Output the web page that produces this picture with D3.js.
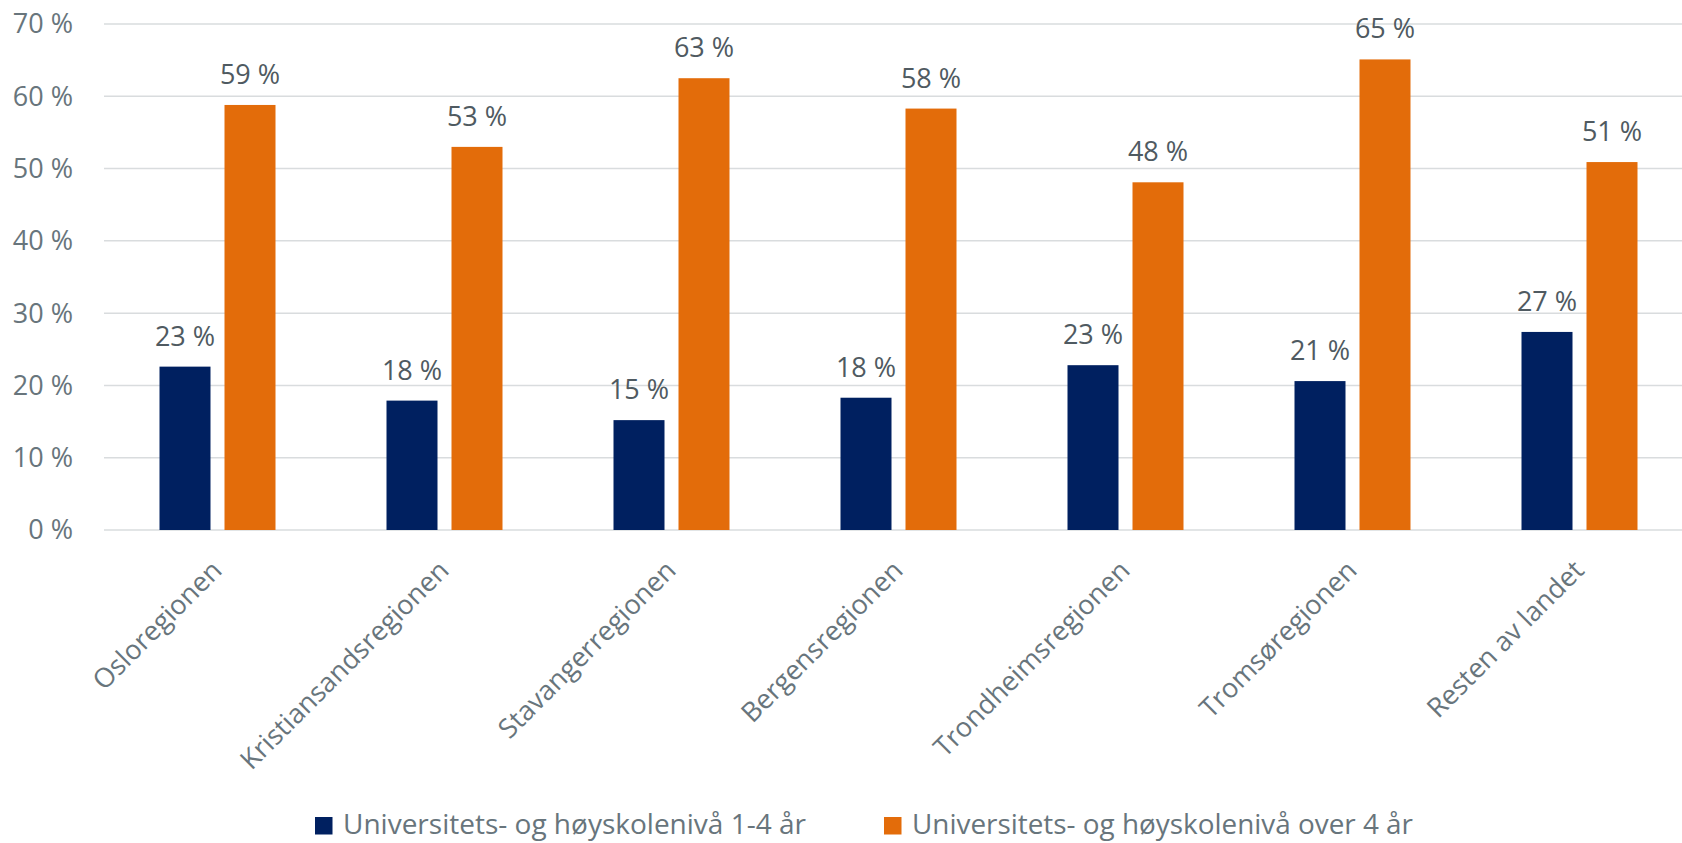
<!DOCTYPE html>
<html lang="no">
  <head>
    <meta charset="UTF-8" />
    <script src="https://d3js.org/d3.v7.min.js"></script>
    <style>
      body { margin: 0; background: #fff; }
      text { font-family: "Open Sans", sans-serif; }
      .grid line { stroke: #d9dcde; stroke-width: 1.5px; }
    </style>
    <title>Utdanningsnivå etter region</title>
  </head>
  <body>
    <svg id="chart" width="1682" height="843"></svg>
    <script>
      // data
      const regions = [
        "Osloregionen",
        "Kristiansandsregionen",
        "Stavangerregionen",
        "Bergensregionen",
        "Trondheimsregionen",
        "Tromsøregionen",
        "Resten av landet",
      ];
      const series = [
        "Universitets- og høyskolenivå 1-4 år",
        "Universitets- og høyskolenivå over 4 år",
      ];
      const short = [22.6, 17.9, 15.2, 18.3, 22.8, 20.6, 27.4];
      const long = [58.8, 53.0, 62.5, 58.3, 48.1, 65.1, 50.9];
      const yTicks = [0, 10, 20, 30, 40, 50, 60, 70];
      const colors = ["#002060", "#e36c0a"];

      const svg = d3.select("#chart");
      const width = +svg.attr("width");

      const rows = regions.map((r, i) => ({ region: r, values: [short[i], long[i]] }));

      const x0 = d3.scaleBand().domain(regions).range([104, 1693]);
      const x1 = d3
        .scaleBand()
        .domain(d3.range(series.length))
        .range([55.5, 171.5])
        .paddingInner(0.2154);
      const y = d3.scaleLinear().domain([0, 70]).range([530, 24]);

      // gridlines
      svg
        .append("g")
        .attr("class", "grid")
        .selectAll("line")
        .data(yTicks)
        .join("line")
        .attr("x1", 104)
        .attr("x2", width)
        .attr("y1", (d) => y(d))
        .attr("y2", (d) => y(d));

      // y axis labels
      svg
        .append("g")
        .selectAll("text")
        .data(yTicks)
        .join("text")
        .attr("x", 73)
        .attr("y", (d) => y(d))
        .attr("dy", "0.35em")
        .attr("text-anchor", "end")
        .attr("font-size", 27)
        .attr("fill", "#68757c")
        .text((d) => d + " %");

      const groups = svg
        .append("g")
        .selectAll("g")
        .data(rows)
        .join("g")
        .attr("transform", (d) => `translate(${x0(d.region)},0)`);

      groups
        .selectAll("rect")
        .data((d) => d.values)
        .join("rect")
        .attr("x", (d, i) => x1(i))
        .attr("width", x1.bandwidth())
        .attr("y", (d) => y(d))
        .attr("height", (d) => y(0) - y(d))
        .attr("fill", (d, i) => colors[i]);

      groups
        .selectAll("text.val")
        .data((d) => d.values)
        .join("text")
        .attr("class", "val")
        .attr("x", (d, i) => x1(i) + x1.bandwidth() / 2)
        .attr("y", (d) => y(d) - 21)
        .attr("text-anchor", "middle")
        .attr("font-size", 27)
        .attr("fill", "#4f5a61")
        .text((d) => Math.round(d) + " %");

      // rotated category labels
      svg
        .append("g")
        .selectAll("text")
        .data(regions)
        .join("text")
        .attr(
          "transform",
          (d) => `translate(${x0(d) + x0.bandwidth() / 2 + 6},572) rotate(-45)`
        )
        .attr("text-anchor", "end")
        .attr("font-size", 27)
        .attr("fill", "#68757c")
        .text((d) => d);

      // legend
      const legendX = [315, 884];
      const legendW = [463, 501];
      const legend = svg
        .append("g")
        .selectAll("g")
        .data(series)
        .join("g")
        .attr("transform", (d, i) => `translate(${legendX[i]},817)`);

      legend
        .append("rect")
        .attr("width", 17.5)
        .attr("height", 17.5)
        .attr("fill", (d, i) => colors[i]);

      legend
        .append("text")
        .attr("x", 28)
        .attr("y", 17)
        .attr("font-size", 27)
        .attr("fill", "#68757c")
        .attr("textLength", (d, i) => legendW[i])
        .attr("lengthAdjust", "spacingAndGlyphs")
        .text((d) => d);
    </script>
  </body>
</html>
